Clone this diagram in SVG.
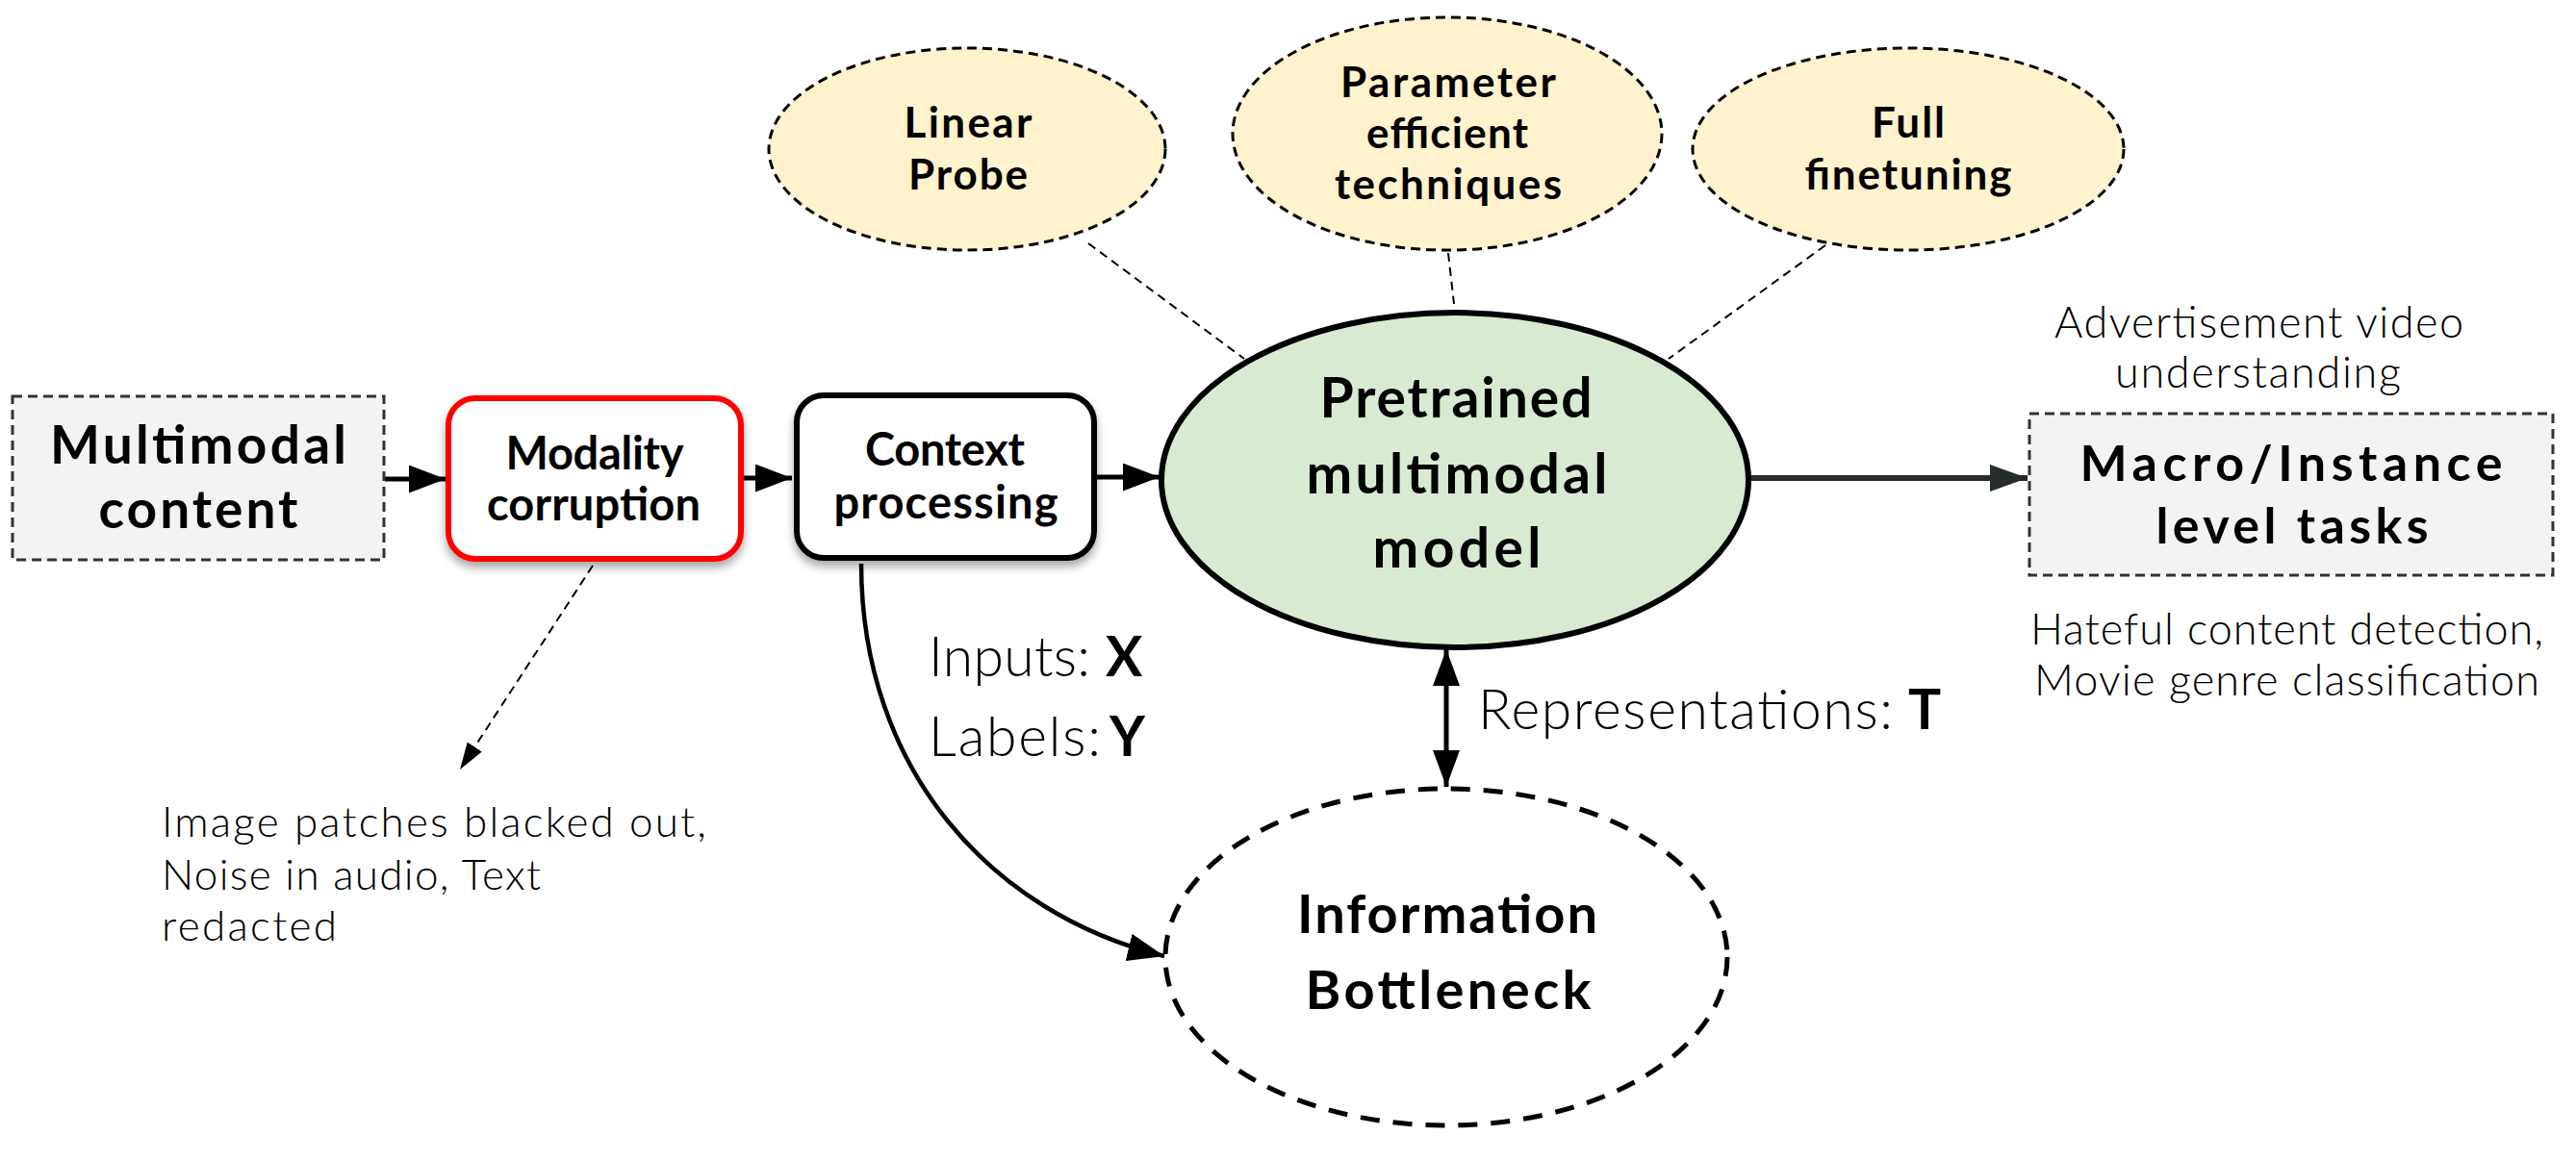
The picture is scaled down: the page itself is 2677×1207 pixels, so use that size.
<svg xmlns="http://www.w3.org/2000/svg" width="2677" height="1207" viewBox="0 0 2677 1207">
<style>
.b{font-family:Lato,"Open Sans","Liberation Sans",sans-serif;font-weight:700;fill:#000}
.l{font-family:Lato,"Open Sans","Liberation Sans",sans-serif;font-weight:300;fill:#000}
.m{text-anchor:middle}
.dash-s{fill:none;stroke:#000;stroke-width:2;stroke-dasharray:9 6}
.line{fill:none;stroke:#000;stroke-width:5}
</style>
<defs>
<filter id="sh" x="-20%" y="-20%" width="140%" height="150%">
<feDropShadow dx="0" dy="6" stdDeviation="5" flood-color="#000" flood-opacity="0.35"/>
</filter>
<marker id="ah" markerUnits="userSpaceOnUse" markerWidth="40" markerHeight="30" refX="38" refY="14.5" orient="auto">
<path d="M0,0 L38,14.5 L0,29 Z" fill="#000"/>
</marker>
<marker id="ahd" markerUnits="userSpaceOnUse" markerWidth="40" markerHeight="30" refX="39" refY="14" orient="auto">
<path d="M0,0 L39,14 L0,28 Z" fill="#262b2b"/>
</marker>
<marker id="ahs" markerUnits="userSpaceOnUse" markerWidth="30" markerHeight="20" refX="28" refY="9" orient="auto">
<path d="M0,0 L28,9 L0,18 Z" fill="#000"/>
</marker>
<marker id="ahv" markerUnits="userSpaceOnUse" markerWidth="40" markerHeight="30" refX="38" refY="14" orient="auto-start-reverse">
<path d="M0,0 L38,14 L0,28 Z" fill="#000"/>
</marker>
</defs>
<rect width="2677" height="1207" fill="#fff"/>

<g id="connectors">
<line x1="400" y1="498" x2="463" y2="498" class="line" marker-end="url(#ah)"/>
<line x1="771" y1="497" x2="823" y2="497" class="line" marker-end="url(#ah)"/>
<line x1="1140" y1="496" x2="1205" y2="496" class="line" marker-end="url(#ah)"/>
<line x1="1817" y1="497" x2="2107" y2="497" fill="none" stroke="#262b2b" stroke-width="6" marker-end="url(#ahd)"/>
<line x1="1131" y1="253" x2="1293" y2="373" class="dash-s"/>
<line x1="1505" y1="263" x2="1511" y2="316" class="dash-s"/>
<line x1="1897" y1="255" x2="1734" y2="373" class="dash-s"/>
<line x1="616" y1="588" x2="478" y2="800" class="dash-s" marker-end="url(#ahs)"/>
<path d="M895,586 C895,800 1030,950 1210,994" fill="none" stroke="#000" stroke-width="4.5" marker-end="url(#ah)"/>
<line x1="1503" y1="675" x2="1503" y2="818" fill="none" stroke="#000" stroke-width="5" marker-start="url(#ahv)" marker-end="url(#ahv)"/>
</g>

<g id="multimodal-content">
<rect x="13" y="412" width="386" height="170" fill="#f3f3f3" stroke="#333" stroke-width="3" stroke-dasharray="10 6"/>
<text class="b m" x="206" y="482" font-size="55" textLength="308">Multimodal</text>
<text class="b m" x="206" y="549" font-size="55" textLength="207">content</text>
</g>

<g id="modality-corruption">
<rect x="466" y="414" width="304" height="167" rx="28" fill="#fff" stroke="#ff0000" stroke-width="6" filter="url(#sh)"/>
<text class="b m" x="618" y="488" font-size="47" textLength="185">Modality</text>
<text class="b m" x="617" y="541" font-size="47" textLength="222">corruption</text>
</g>

<g id="context-processing">
<rect x="828" y="411" width="309" height="169" rx="28" fill="#fff" stroke="#000" stroke-width="6" filter="url(#sh)"/>
<text class="b m" x="982" y="484" font-size="47" textLength="166">Context</text>
<text class="b m" x="983" y="539" font-size="47" textLength="233">processing</text>
</g>

<g id="pretrained-model">
<ellipse cx="1512" cy="499" rx="305" ry="174" fill="#d9ead3" stroke="#000" stroke-width="6"/>
<text class="b m" x="1513" y="434" font-size="57" textLength="283">Pretrained</text>
<text class="b m" x="1514" y="513" font-size="57" textLength="313">multimodal</text>
<text class="b m" x="1514" y="590" font-size="57" textLength="175">model</text>
</g>

<g id="linear-probe">
<ellipse cx="1005" cy="155" rx="206" ry="105" fill="#fff2cc" stroke="#000" stroke-width="3" stroke-dasharray="10 6"/>
<text class="b m" x="1006" y="143" font-size="44" textLength="133">Linear</text>
<text class="b m" x="1006" y="197" font-size="44" textLength="124">Probe</text>
</g>

<g id="parameter-efficient">
<ellipse cx="1504" cy="139" rx="223" ry="121" fill="#fff2cc" stroke="#000" stroke-width="3" stroke-dasharray="10 6"/>
<text class="b m" x="1505" y="101" font-size="44" textLength="224">Parameter</text>
<text class="b m" x="1504" y="154" font-size="44" textLength="168">efficient</text>
<text class="b m" x="1505" y="207" font-size="44" textLength="236">techniques</text>
</g>

<g id="full-finetuning">
<ellipse cx="1983" cy="155" rx="224" ry="105" fill="#fff2cc" stroke="#000" stroke-width="3" stroke-dasharray="10 6"/>
<text class="b m" x="1983" y="143" font-size="44" textLength="76">Full</text>
<text class="b m" x="1983" y="197" font-size="44" textLength="215">finetuning</text>
</g>

<g id="macro-instance-tasks">
<rect x="2109" y="430" width="544" height="168" fill="#f3f3f3" stroke="#333" stroke-width="3" stroke-dasharray="10 6"/>
<text class="b m" x="2381" y="500" font-size="52" textLength="439">Macro/Instance</text>
<text class="b m" x="2382" y="565" font-size="52" textLength="283">level tasks</text>
</g>

<g id="information-bottleneck">
<ellipse cx="1503" cy="995" rx="292" ry="175" fill="#fff" stroke="#000" stroke-width="5" stroke-dasharray="20 14"/>
<text class="b m" x="1504" y="970" font-size="56" textLength="312">Information</text>
<text class="b m" x="1505" y="1049" font-size="56" textLength="297">Bottleneck</text>
</g>

<g id="labels">
<text class="l" x="2135" y="351" font-size="45" textLength="425">Advertisement video</text>
<text class="l" x="2198" y="403" font-size="45" textLength="297">understanding</text>
<text class="l" x="2110" y="670" font-size="45" textLength="533">Hateful content detection,</text>
<text class="l" x="2114" y="723" font-size="45" textLength="525">Movie genre classification</text>
<text class="l" x="168" y="870" font-size="44" textLength="566">Image patches blacked out,</text>
<text class="l" x="168" y="925" font-size="44" textLength="394">Noise in audio, Text</text>
<text class="l" x="168" y="978" font-size="44" textLength="182">redacted</text>
<text class="l" x="965" y="703" font-size="57" textLength="168">Inputs:</text>
<text class="b" x="1149" y="703" font-size="57" textLength="36">X</text>
<text class="l" x="965" y="786" font-size="57" textLength="179">Labels:</text>
<text class="b" x="1153" y="786" font-size="57" textLength="45">Y</text>
<text class="l" x="1536" y="758" font-size="57" textLength="431">Representations:</text>
<text class="b" x="1983" y="758" font-size="57" textLength="23">T</text>
</g>
</svg>
